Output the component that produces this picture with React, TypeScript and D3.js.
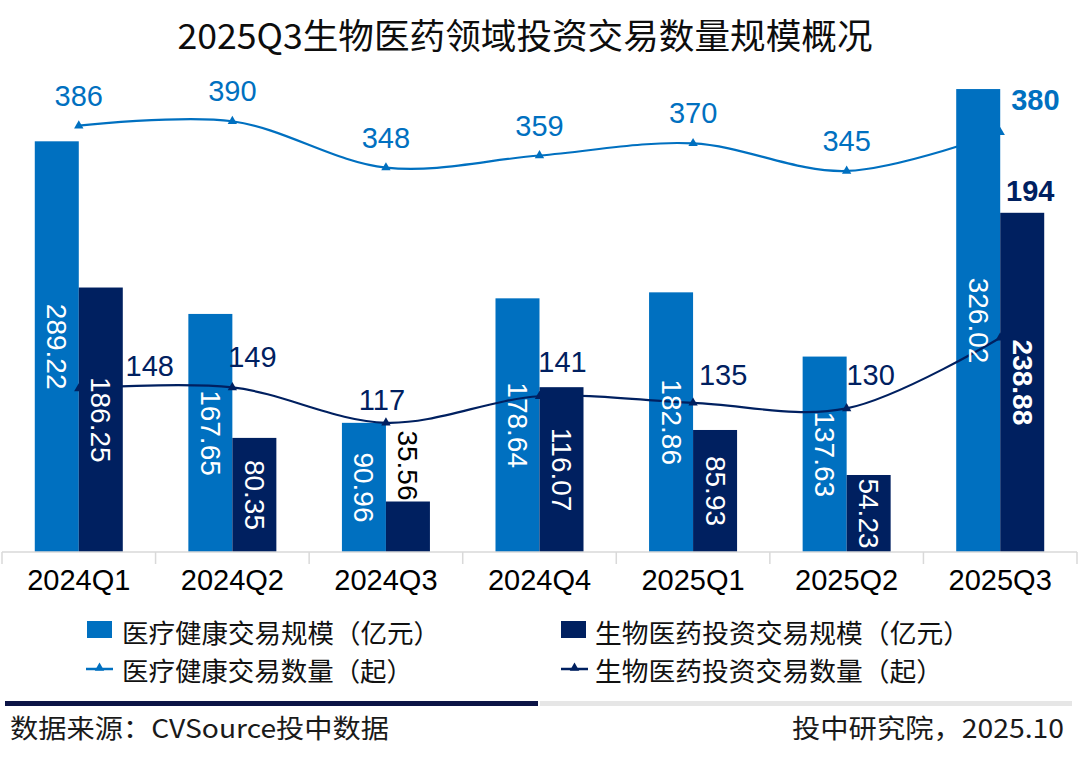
import React from 'react';
import * as d3 from 'd3';

const categories = ['2024Q1', '2024Q2', '2024Q3', '2024Q4', '2025Q1', '2025Q2', '2025Q3'];
const healthScale = [289.22, 167.65, 90.96, 178.64, 182.86, 137.63, 326.02];
const bioScale = [186.25, 80.35, 35.56, 116.07, 85.93, 54.23, 238.88];
const healthCount = [386, 390, 348, 359, 370, 345, 380];
const bioCount = [148, 149, 117, 141, 135, 130, 194];

const title = '2025Q3生物医药领域投资交易数量规模概况';
const legendNames = [
  '医疗健康交易规模（亿元）',
  '生物医药投资交易规模（亿元）',
  '医疗健康交易数量（起）',
  '生物医药投资交易数量（起）',
];
const sourceText = '数据来源：CVSource投中数据';
const creditText = '投中研究院，2025.10';

// label placement tweaks (offsets from computed point)
const bioCountLabelOffsets: [number, number][] = [
  [71, -13], [20, -20], [-4, -13], [23, -24], [30, -18], [24, -23], [0, 0],
];

const W = 1080;
const H = 777;
const LIGHT = '#0070C0';
const NAVY = '#002060';
const CJK = '"Noto Sans CJK SC", "Noto Sans", sans-serif';
const ARIAL = '"Liberation Sans", Arial, sans-serif';

export default function App() {
  const baseY = 552;
  const x0 = d3.scaleBand<string>().domain(categories).range([2, 1077]).padding(0);
  const bw = x0.bandwidth();
  const x1 = d3.scaleBand<string>().domain(['h', 'b']).range([0, bw]).paddingInner(0).paddingOuter(0.745);
  const yL = d3.scaleLinear().domain([0, 350]).range([baseY, 55]);
  const yR = d3.scaleLinear().domain([0, 450]).range([baseY, 55]);
  const cx = (c: string) => (x0(c) as number) + bw / 2;

  const line = d3
    .line<number>()
    .x((_, i) => cx(categories[i]))
    .y((v) => yR(v))
    .curve(d3.curveCatmullRom.alpha(0.5));

  const tri = d3.symbol().type(d3.symbolTriangle).size(38)() as string;
  const last = categories.length - 1;
  const labelFont = 28;

  const barLabel = (v: number, x: number, y: number, h: number, bold: boolean, key: string) => {
    const est = v.toFixed(2).length * 0.5 * labelFont;
    const inside = est < h;
    const cy = inside ? y + h / 2 : y - 1;
    return (
      <text
        key={key}
        transform={`translate(${x},${cy}) rotate(90)`}
        textAnchor={inside ? 'middle' : 'end'}
        dominantBaseline="central"
        fontFamily={ARIAL}
        fontSize={labelFont}
        fontWeight={bold ? 'bold' : 'normal'}
        fill={inside ? '#ffffff' : '#000000'}
      >
        {v.toFixed(2)}
      </text>
    );
  };

  const ticks = d3.range(categories.length + 1).map((i) => 2 + i * bw);

  return (
    <svg width={W} height={H} style={{ position: 'absolute', left: 0, top: 0, background: '#fff' }}>
      <rect x={0} y={0} width={W} height={H} fill="#ffffff" />
      <text x={525} y={49} textAnchor="middle" fontFamily={CJK} fontSize={35} fill="#0d0d0d" textLength={695} lengthAdjust="spacingAndGlyphs">
        {title}
      </text>

      {/* light count line (behind light bars) */}
      <path d={line(healthCount) as string} fill="none" stroke={LIGHT} strokeWidth={2.2} />
      {healthCount.map((v, i) => (
        <path key={'hm' + i} d={tri} transform={`translate(${cx(categories[i])},${yR(v)})`} fill={LIGHT} />
      ))}

      {/* light bars */}
      {healthScale.map((v, i) => (
        <rect
          key={'hb' + i}
          x={(x0(categories[i]) as number) + (x1('h') as number)}
          y={yL(v)}
          width={x1.bandwidth()}
          height={baseY - yL(v)}
          fill={LIGHT}
        />
      ))}

      {/* navy count line */}
      <path d={line(bioCount) as string} fill="none" stroke={NAVY} strokeWidth={2.2} />
      {bioCount.map((v, i) => (
        <path key={'bm' + i} d={tri} transform={`translate(${cx(categories[i])},${yR(v)})`} fill={NAVY} />
      ))}

      {/* navy bars */}
      {bioScale.map((v, i) => (
        <rect
          key={'bb' + i}
          x={(x0(categories[i]) as number) + (x1('b') as number)}
          y={yL(v)}
          width={x1.bandwidth()}
          height={baseY - yL(v)}
          fill={NAVY}
        />
      ))}

      {/* axis */}
      <line x1={2} x2={1077} y1={baseY} y2={baseY} stroke="#d9d9d9" strokeWidth={1.5} />
      {ticks.map((t, i) => (
        <line key={'t' + i} x1={t} x2={t} y1={baseY} y2={baseY + 12} stroke="#d9d9d9" strokeWidth={1.5} />
      ))}
      {categories.map((c) => (
        <text key={'xl' + c} x={cx(c)} y={590} textAnchor="middle" fontFamily={ARIAL} fontSize={29} fill="#000">
          {c}
        </text>
      ))}

      {/* bar labels */}
      {healthScale.map((v, i) => {
        const x = (x0(categories[i]) as number) + (x1('h') as number) + x1.bandwidth() / 2;
        return barLabel(v, x, yL(v), baseY - yL(v), false, 'hl' + i);
      })}
      {bioScale.map((v, i) => {
        const x = (x0(categories[i]) as number) + (x1('b') as number) + x1.bandwidth() / 2;
        return barLabel(v, x, yL(v), baseY - yL(v), i === last, 'bl' + i);
      })}

      {/* light count labels */}
      {healthCount.map((v, i) => {
        const px = cx(categories[i]);
        const py = yR(v);
        if (i === last) {
          return (
            <text key={'hcl' + i} x={px + 11} y={py - 22} textAnchor="start" fontFamily={ARIAL} fontSize={29} fontWeight="bold" fill={LIGHT}>
              {v}
            </text>
          );
        }
        return (
          <text key={'hcl' + i} x={px} y={py - 20} textAnchor="middle" fontFamily={ARIAL} fontSize={29} fill={LIGHT}>
            {v}
          </text>
        );
      })}

      {/* navy count labels */}
      {bioCount.map((v, i) => {
        if (i === last) {
          const bx = (x0(categories[i]) as number) + (x1('b') as number) + x1.bandwidth() / 2;
          return (
            <text key={'bcl' + i} x={bx + 8} y={yL(bioScale[i]) - 12} textAnchor="middle" fontFamily={ARIAL} fontSize={29} fontWeight="bold" fill={NAVY}>
              {v}
            </text>
          );
        }
        const [dx, dy] = bioCountLabelOffsets[i];
        return (
          <text key={'bcl' + i} x={cx(categories[i]) + dx} y={yR(v) + dy} textAnchor="middle" fontFamily={ARIAL} fontSize={29} fill={NAVY}>
            {v}
          </text>
        );
      })}

      {/* legend */}
      <rect x={87} y={621} width={25} height={17} fill={LIGHT} />
      <text x={122} y={631} dominantBaseline="central" fontFamily={CJK} fontSize={26} fill="#111" textLength={318} lengthAdjust="spacingAndGlyphs">
        {legendNames[0]}
      </text>
      <rect x={561} y={621} width={25} height={17} fill={NAVY} />
      <text x={595} y={631} dominantBaseline="central" fontFamily={CJK} fontSize={26} fill="#111" textLength={375} lengthAdjust="spacingAndGlyphs">
        {legendNames[1]}
      </text>
      <line x1={86} x2={113} y1={669} y2={669} stroke={LIGHT} strokeWidth={2.5} />
      <path d={tri} transform="translate(99.5,668)" fill={LIGHT} />
      <text x={122} y={669} dominantBaseline="central" fontFamily={CJK} fontSize={26} fill="#111" textLength={291} lengthAdjust="spacingAndGlyphs">
        {legendNames[2]}
      </text>
      <line x1={561} x2={588} y1={669} y2={669} stroke={NAVY} strokeWidth={2.5} />
      <path d={tri} transform="translate(574.5,668)" fill={NAVY} />
      <text x={595} y={669} dominantBaseline="central" fontFamily={CJK} fontSize={26} fill="#111" textLength={348} lengthAdjust="spacingAndGlyphs">
        {legendNames[3]}
      </text>

      {/* footer */}
      <rect x={5} y={701} width={533} height={5} fill="#0c1446" />
      <rect x={540} y={701} width={532} height={5} fill="#e6e6e6" />
      <text x={10} y={726} dominantBaseline="central" fontFamily={CJK} fontSize={26} fill="#1a1a1a" textLength={379} lengthAdjust="spacingAndGlyphs">
        {sourceText}
      </text>
      <text x={792} y={726} dominantBaseline="central" fontFamily={CJK} fontSize={26} fill="#1a1a1a" textLength={272} lengthAdjust="spacingAndGlyphs">
        {creditText}
      </text>
    </svg>
  );
}
